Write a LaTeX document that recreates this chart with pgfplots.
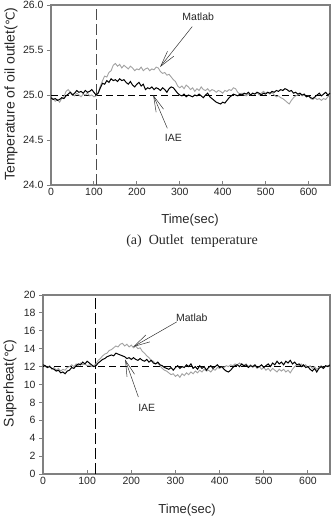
\documentclass[border=0pt]{standalone}
\usepackage{fontspec}
\setmainfont{Liberation Sans}
\newfontfamily\capfont{Liberation Serif}
\newfontfamily\symfont{DejaVu Sans}
\usepackage{pgfplots}
\pgfplotsset{compat=1.18}
\usetikzlibrary{arrows.meta}

\definecolor{framegray}{HTML}{808080}
\definecolor{matlabgray}{HTML}{A2A2A2}

\newcommand{\degC}{{\symfont\fontsize{12}{14}\selectfont ℃}}

\tikzset{
  callout/.style={black!80, line width=0.5pt, -{Straight Barb[length=16pt,width=8pt,line width=0.5pt]}},
}

\pgfplotsset{
  paneldefaults/.style={
    scale only axis,
    /pgf/number format/assume math mode=true,
    axis line style={framegray, line width=1.1pt},
    tick style={framegray, line width=0.9pt},
    xtick align=inside,
    ytick align=outside,
    major tick length=4pt,
    xtick pos=bottom, ytick pos=left,
    tick label style={font=\fontsize{10.5}{12}\selectfont, text=black!85},
    xlabel style={font=\fontsize{13}{15}\selectfont, text=black!85},
    ylabel style={font=\fontsize{14}{16}\selectfont, text=black!85},
    xmin=0, xmax=650,
    xtick={0,100,...,600},
    clip=true,
  },
  matlab/.style={matlabgray, line width=0.9pt},
  iae/.style={black, line width=1.0pt},
}

\pgfplotstableread{
t    matlab iae
0    24.97 24.97
5    24.96 24.95
10   24.93 24.96
15   24.95 24.94
20   24.92 24.95
25   24.96 24.97
30   24.98 24.96
35   25.04 24.99
40   25.06 25.01
45   25.03 25.03
50   25.01 25.00
55   24.99 25.02
60   25.02 25.05
65   25.00 25.03
70   24.98 25.04
75   25.01 25.02
80   25.00 25.05
85   25.02 25.03
90   24.99 25.04
95   25.00 25.06
100  24.98 25.03
105  24.99 25.00
110  25.03 25.02
115  25.10 25.08
120  25.16 25.13
125  25.21 25.12
130  25.20 25.16
135  25.25 25.14
140  25.27 25.18
145  25.33 25.16
150  25.35 25.17
155  25.32 25.15
160  25.34 25.18
165  25.30 25.16
170  25.33 25.17
175  25.31 25.14
180  25.29 25.12
185  25.32 25.15
190  25.30 25.11
195  25.27 25.09
200  25.29 25.12
205  25.28 25.14
210  25.31 25.10
215  25.27 25.12
220  25.29 25.06
225  25.30 25.08
230  25.27 25.07
235  25.29 25.09
240  25.28 25.06
245  25.31 25.08
250  25.30 25.07
255  25.26 25.05
260  25.24 25.08
265  25.25 25.06
270  25.22 25.03
275  25.23 25.07
280  25.20 25.09
285  25.17 25.08
290  25.15 25.05
295  25.10 25.02
300  25.08 25.00
305  25.10 24.99
310  25.07 25.01
315  25.11 24.98
320  25.09 25.00
325  25.06 24.99
330  25.08 24.98
335  25.04 25.00
340  25.07 24.99
345  25.05 25.01
350  25.09 24.99
355  25.06 24.97
360  25.05 25.00
365  25.07 25.02
370  25.04 24.98
375  25.06 24.96
380  25.05 24.94
385  25.03 24.92
390  25.05 24.91
395  25.04 24.90
400  25.02 24.92
405  25.05 24.91
410  25.04 24.94
415  25.06 24.97
420  25.05 24.99
425  25.08 25.01
430  25.07 25.00
435  25.03 24.99
440  25.01 25.01
445  25.02 25.00
450  25.00 25.02
455  24.99 25.01
460  25.01 25.03
465  25.00 25.00
470  25.02 25.02
475  25.01 25.01
480  25.03 25.03
485  25.00 25.02
490  25.02 25.00
495  25.04 25.02
500  25.02 25.01
505  25.03 25.03
510  25.01 25.02
515  25.03 25.04
520  25.00 25.03
525  24.98 25.05
530  24.99 25.04
535  24.97 25.06
540  24.96 25.05
545  24.94 25.07
550  24.92 25.06
555  24.90 25.04
560  24.94 25.05
565  24.97 25.02
570  24.99 25.03
575  25.00 25.01
580  25.01 25.02
585  24.99 25.00
590  25.00 25.01
595  24.98 24.98
600  24.99 24.99
605  24.96 24.97
610  24.95 24.96
615  24.97 24.98
620  24.95 25.00
625  24.96 25.02
630  24.94 24.99
635  24.96 25.01
640  24.95 25.03
645  24.98 25.00
650  25.00 25.02
}\outlettable

\pgfplotstableread{
t    matlab iae
0    12.2 12.2
5    12.0 12.1
10   11.9 11.9
15   12.1 12.0
20   11.7 11.8
25   11.9 11.7
30   11.6 11.5
35   11.8 11.6
40   11.5 11.3
45   11.7 11.4
50   11.6 11.2
55   11.9 11.5
60   12.0 11.6
65   12.2 11.9
70   12.0 11.8
75   12.3 12.1
80   12.1 12.3
85   12.4 12.2
90   12.2 12.5
95   12.3 12.3
100  12.1 12.6
105  12.2 12.4
110  12.0 12.2
115  12.1 12.0
120  12.3 12.1
125  12.7 12.4
130  12.9 12.6
135  13.2 12.8
140  13.4 12.9
145  13.5 13.1
150  13.8 13.2
155  13.9 13.3
160  14.1 13.2
165  14.3 13.5
170  14.2 13.4
175  14.5 13.3
180  14.6 13.2
185  14.3 13.1
190  14.5 12.9
195  14.2 13.0
200  14.4 12.8
205  14.1 13.0
210  14.3 12.8
215  14.0 12.7
220  14.1 12.9
225  13.7 12.7
230  13.5 12.6
235  13.2 12.8
240  13.0 12.5
245  12.7 12.7
250  12.6 12.4
255  12.3 12.3
260  12.4 12.5
265  12.1 12.2
270  11.8 12.1
275  11.6 11.9
280  11.5 11.8
285  11.3 11.7
290  11.1 11.9
295  11.2 11.6
300  10.9 11.9
305  11.1 12.1
310  10.8 11.8
315  11.2 12.0
320  11.0 11.9
325  11.3 12.2
330  11.1 12.0
335  11.4 12.3
340  11.2 11.8
345  11.5 12.0
350  11.3 11.7
355  11.6 12.1
360  11.4 11.8
365  11.7 12.0
370  11.5 11.6
375  11.6 11.9
380  11.4 12.1
385  11.7 11.8
390  11.6 12.0
395  11.9 12.2
400  11.8 11.9
405  12.0 12.0
410  11.9 11.7
415  12.1 11.5
420  12.0 11.4
425  12.2 11.6
430  12.1 11.9
435  12.3 12.1
440  12.2 12.2
445  12.4 12.0
450  12.2 12.3
455  12.1 12.1
460  12.3 12.2
465  12.0 11.9
470  12.2 12.1
475  11.9 12.0
480  12.1 12.2
485  11.8 11.9
490  12.0 12.0
495  11.7 12.2
500  11.9 11.9
505  11.6 12.1
510  11.8 12.3
515  11.5 12.0
520  11.8 12.4
525  11.6 12.2
530  11.4 12.6
535  11.7 12.3
540  11.5 12.5
545  11.7 12.2
550  11.4 12.6
555  11.6 12.4
560  11.3 12.7
565  11.7 12.3
570  12.0 12.5
575  12.2 12.2
580  12.1 12.3
585  12.3 12.0
590  12.0 12.2
595  12.2 11.9
600  11.9 12.0
605  12.1 11.7
610  11.8 11.5
615  12.0 11.8
620  11.7 11.4
625  11.9 11.8
630  12.1 12.0
635  11.8 11.8
640  12.0 12.1
645  12.1 12.0
650  11.9 12.2
}\superheattable

\begin{document}
\begin{tikzpicture}[x=1pt, y=1pt]
\useasboundingbox (0,0) rectangle (334,527);

% (a) oil outlet temperature
\begin{axis}[paneldefaults,
  at={(51pt,342pt)}, anchor=south west,
  width=279pt, height=180pt,
  ymin=24, ymax=26,
  ytick={24,24.5,...,26},
  yticklabel style={/pgf/number format/.cd, fixed, fixed zerofill, precision=1},
  xlabel={Time(sec)},
  ylabel={Temperature of oil outlet(\degC)},
  xlabel style={at={(axis description cs:0.498,-0.194)}, anchor=center},
  ylabel style={at={(axis description cs:-0.143,0.505)}, anchor=center},
]
\addplot[black, line width=0.8pt, dash pattern=on 7pt off 4pt] coordinates {(0,25) (650,25)};
\addplot[black!70, line width=0.9pt, dash pattern=on 11pt off 4pt] coordinates {(107,24) (107,26)};
\addplot[matlab] table[x=t, y=matlab] {\outlettable};
\addplot[iae] table[x=t, y=iae] {\outlettable};
\draw[callout] (axis cs:329,25.76) -- (axis cs:254,25.31);
\draw[callout] (axis cs:271,24.63) -- (axis cs:238,25.00);
\node[font=\fontsize{10.5}{12}\selectfont, text=black!85] at (axis cs:343,25.87) {Matlab};
\node[font=\fontsize{10.5}{12}\selectfont, text=black!85] at (axis cs:285,24.52) {IAE};
\end{axis}

\node[font=\capfont\fontsize{14}{16}\selectfont, text=black!85] at (192pt,286pt)
  {(a)\ \ Outlet\ \ temperature};

% (b) superheat
\begin{axis}[paneldefaults,
  at={(43pt,53pt)}, anchor=south west,
  width=287pt, height=179pt,
  ymin=0, ymax=20,
  ytick={0,2,...,20},
  xlabel={Time(sec)},
  ylabel={Superheat(\degC)},
  xlabel style={at={(axis description cs:0.502,-0.201)}, anchor=center},
  ylabel style={at={(axis description cs:-0.115,0.506)}, anchor=center},
]
\addplot[black, line width=0.8pt, dash pattern=on 7pt off 4pt] coordinates {(0,12) (650,12)};
\addplot[black, line width=0.9pt, dash pattern=on 11pt off 4pt] coordinates {(118,0) (118,20)};
\addplot[matlab] table[x=t, y=matlab] {\superheattable};
\addplot[iae] table[x=t, y=iae] {\superheattable};
\draw[callout] (axis cs:303,17.0) -- (axis cs:204,14.2);
\draw[callout] (axis cs:216,8.6) -- (axis cs:186,12.8);
\node[font=\fontsize{10.5}{12}\selectfont, text=black!85] at (axis cs:337,17.46) {Matlab};
\node[font=\fontsize{10.5}{12}\selectfont, text=black!85] at (axis cs:235,7.4) {IAE};
\end{axis}
\end{tikzpicture}
\end{document}
